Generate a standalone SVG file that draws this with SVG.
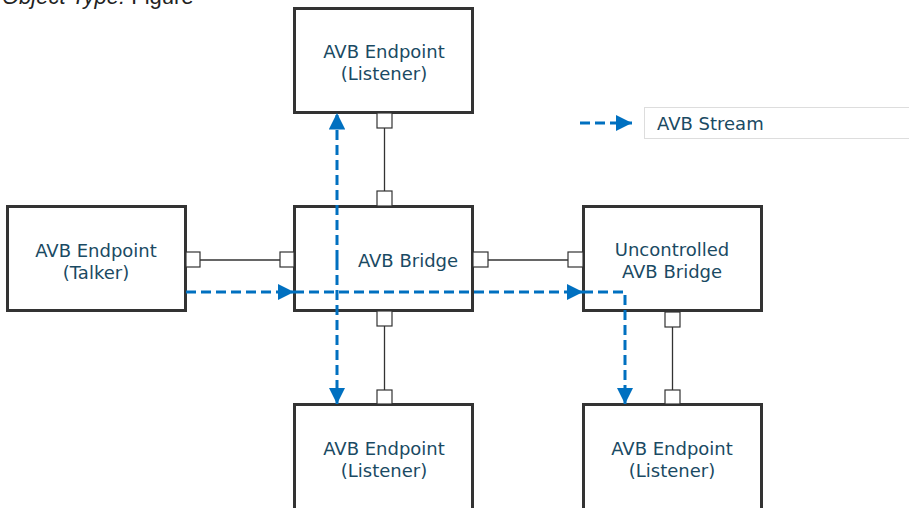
<svg xmlns="http://www.w3.org/2000/svg" width="909" height="508" viewBox="0 0 909 508">
  <defs>
    <style>
      .box { fill: #ffffff; stroke: #333333; stroke-width: 3; }
      .port { fill: #ffffff; stroke: #333333; stroke-width: 1.2; }
      .link { stroke: #333333; stroke-width: 1.3; fill: none; }
      .stream { stroke: #0070c0; stroke-width: 3; fill: none; stroke-dasharray: 10 5; }
      .lbl { font-family: "DejaVu Sans", Verdana, sans-serif; font-size: 18px; fill: #1a4a63; text-anchor: middle; }
    </style>
    <marker id="arrow" viewBox="0 0 10 10" refX="10" refY="5" markerWidth="5.5" markerHeight="5.5" orient="auto" markerUnits="strokeWidth">
      <path d="M0,0 L10,5 L0,10 z" fill="#0070c0"/>
    </marker>
  </defs>

  <text x="2" y="4" font-family="Liberation Sans, Arial, sans-serif" font-size="22" fill="#222"><tspan font-style="italic">Object Type:</tspan> Figure</text>

  <!-- nodes -->
  <g id="listener-top">
    <rect class="box" x="294.5" y="8.5" width="178" height="104"/>
    <text class="lbl" x="384" y="58">AVB Endpoint</text>
    <text class="lbl" x="384" y="80">(Listener)</text>
  </g>
  <g id="talker">
    <rect class="box" x="7.5" y="206.5" width="178" height="104"/>
    <text class="lbl" x="96" y="257">AVB Endpoint</text>
    <text class="lbl" x="96" y="279">(Talker)</text>
  </g>
  <g id="bridge">
    <rect class="box" x="294.5" y="206.5" width="178" height="104"/>
    <text class="lbl" x="408" y="267">AVB Bridge</text>
  </g>
  <g id="uncontrolled-bridge">
    <rect class="box" x="583.5" y="206.5" width="178" height="104"/>
    <text class="lbl" x="672" y="256">Uncontrolled</text>
    <text class="lbl" x="672" y="278">AVB Bridge</text>
  </g>
  <g id="listener-bottom-left">
    <rect class="box" x="294.5" y="404.5" width="178" height="110"/>
    <text class="lbl" x="384" y="455">AVB Endpoint</text>
    <text class="lbl" x="384" y="477">(Listener)</text>
  </g>
  <g id="listener-bottom-right">
    <rect class="box" x="583.5" y="404.5" width="178" height="110"/>
    <text class="lbl" x="672" y="455">AVB Endpoint</text>
    <text class="lbl" x="672" y="477">(Listener)</text>
  </g>

  <!-- connectors -->
  <g id="connectors">
    <!-- links between ports -->
    <line class="link" x1="384.5" y1="128" x2="384.5" y2="191"/>
    <line class="link" x1="200" y1="260" x2="280" y2="260"/>
    <line class="link" x1="488" y1="260" x2="568" y2="260"/>
    <line class="link" x1="384.5" y1="326" x2="384.5" y2="390"/>
    <line class="link" x1="672.5" y1="327" x2="672.5" y2="390"/>

    <!-- ports -->
    <rect class="port" x="377" y="113" width="15" height="15"/>
    <rect class="port" x="377" y="191" width="15" height="15"/>
    <rect class="port" x="186" y="252" width="14" height="15"/>
    <rect class="port" x="280" y="252" width="14" height="15"/>
    <rect class="port" x="473" y="252" width="15" height="15"/>
    <rect class="port" x="568" y="252" width="15" height="15"/>
    <rect class="port" x="377" y="311" width="15" height="15"/>
    <rect class="port" x="377" y="390" width="15" height="14"/>
    <rect class="port" x="665" y="312" width="15" height="15"/>
    <rect class="port" x="665" y="390" width="15" height="14"/>

    <!-- streams -->
    <path class="stream" d="M186,292 H294" marker-end="url(#arrow)"/>
    <path class="stream" d="M294,292 H583" marker-end="url(#arrow)"/>
    <path class="stream" d="M583,292 H625 V404" marker-end="url(#arrow)"/>
    <path class="stream" d="M337,260 V113" marker-end="url(#arrow)"/>
    <path class="stream" d="M337,260 V404" marker-end="url(#arrow)"/>

    <!-- legend -->
    <path class="stream" d="M580,123 H632" marker-end="url(#arrow)"/>
  </g>
  <g id="legend">
    <rect x="644.5" y="107.5" width="270" height="31" fill="#ffffff" stroke="#dddddd" stroke-width="1"/>
    <text class="lbl" x="657" y="130" style="text-anchor:start">AVB Stream</text>
  </g>
</svg>
